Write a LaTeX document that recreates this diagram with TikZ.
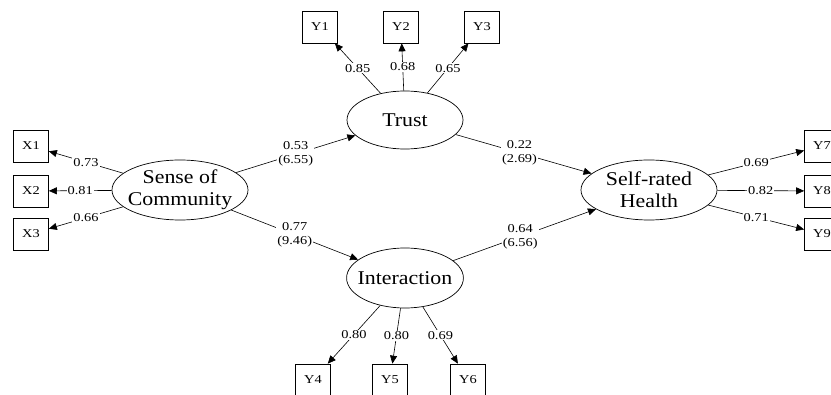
\documentclass[tikz,border=0pt]{standalone}
\usepackage{fontspec}
\setmainfont{Liberation Serif}[FakeStretch=1.12]
\newfontfamily\widefont{Liberation Serif}[FakeStretch=1.2]
\usetikzlibrary{shapes.geometric, arrows.meta}

\tikzset{
  latent/.style={draw, ellipse, line width=0.7pt, inner xsep=-6pt, inner ysep=0pt,
    align=center, font=\fontsize{19.5}{22}\selectfont},
  observed/.style={draw, rectangle, line width=0.7pt, minimum width=35pt,
    minimum height=32pt, inner sep=0pt, font=\widefont\fontsize{12}{13}\selectfont},
  wt/.style={fill=white, inner sep=1pt, align=center, font=\widefont\fontsize{12}{14}\selectfont},
  load/.style={->, line width=0.6pt},
  >={Triangle[length=8pt, width=7pt]}
}

\begin{document}
\begin{tikzpicture}[x=1pt, y=-1pt]
        \useasboundingbox (0,0) rectangle (831,395);
        \clip (0,0) rectangle (831,395);

        % latent variables
        \node[latent, minimum width=136pt, minimum height=60pt] (soc) at (180,190) {Sense of\\Community};
        \node[latent, minimum width=116pt, minimum height=58pt] (trust) at (405,120) {Trust};
        \node[latent, minimum width=116pt, minimum height=60pt] (inter) at (405,278) {Interaction};
        \node[latent, minimum width=136pt, minimum height=60pt] (srh) at (649,190) {Self-rated\\Health};

        % indicators
        \node[observed] (x1) at (31,146) {X1};
        \node[observed] (x2) at (31,191) {X2};
        \node[observed] (x3) at (31,234) {X3};

        \node[observed] (y1) at (320,27) {Y1};
        \node[observed] (y2) at (401,27) {Y2};
        \node[observed] (y3) at (482,27) {Y3};

        \node[observed] (y4) at (313,380) {Y4};
        \node[observed] (y5) at (390,380) {Y5};
        \node[observed] (y6) at (468,380) {Y6};

        \node[observed] (y7) at (822,146) {Y7};
        \node[observed] (y8) at (822,191) {Y8};
        \node[observed] (y9) at (822,234) {Y9};

        % loadings
        \draw[load] (soc) -- node[wt] {0.73} (x1);
        \draw[load] (soc) -- node[wt] {0.81} (x2);
        \draw[load] (soc) -- node[wt] {0.66} (x3);

        \draw[load] (trust) -- node[wt] {0.85} (y1);
        \draw[load] (trust) -- node[wt] {0.68} (y2);
        \draw[load] (trust) -- node[wt] {0.65} (y3);

        \draw[load] (inter) -- node[wt] {0.80} (y4);
        \draw[load] (inter) -- node[wt] {0.80} (y5);
        \draw[load] (inter) -- node[wt] {0.69} (y6);

        \draw[load] (srh) -- node[wt] {0.69} (y7);
        \draw[load] (srh) -- node[wt] {0.82} (y8);
        \draw[load] (srh) -- node[wt] {0.71} (y9);

        % structural paths
        \draw[load] (soc) -- node[wt] {0.53\\(6.55)} (trust);
        \draw[load] (soc) -- node[wt] {0.77\\(9.46)} (inter);
        \draw[load] (trust) -- node[wt, pos=0.47] {0.22\\(2.69)} (srh);
        \draw[load] (inter) -- node[wt, pos=0.47] {0.64\\(6.56)} (srh);

    \end{tikzpicture}
\end{document}
